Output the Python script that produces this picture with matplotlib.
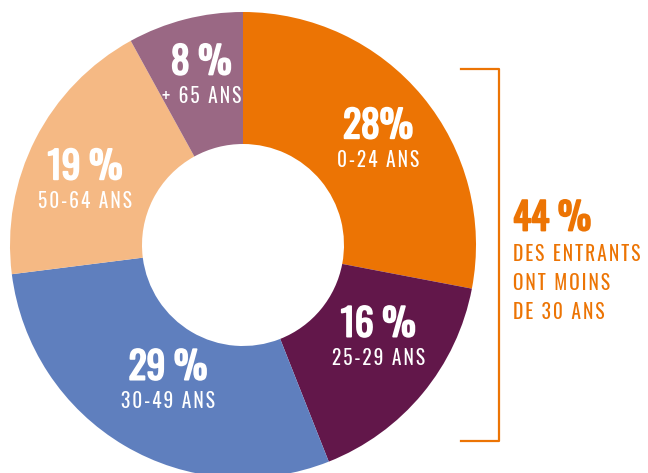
import numpy as np
import matplotlib
matplotlib.use('Agg')
import matplotlib.pyplot as plt
import matplotlib.patheffects as pe
from matplotlib.lines import Line2D

plt.rcParams['font.family'] = ['Oswald', 'DejaVu Sans']

# données : répartition des entrants par âge
shares = [28, 16, 29, 19, 8]
pct_labels = ['28%', '16 %', '29 %', '19 %', '8 %']
age_labels = ['0-24 ANS', '25-29 ANS', '30-49 ANS', '50-64 ANS', '+ 65 ANS']
colors = ['#EC7404', '#62174A', '#5F7FBE', '#F5B984', '#9A6884']

summary_value = '44 %'
summary_lines = ['DES ENTRANTS', 'ONT MOINS', 'DE 30 ANS']
orange = '#EC7404'

# placement des étiquettes : décalage angulaire (deg) et rayon relatif
label_shift = [-1.2, 5.6, 1.4, 4.3, -0.7]
label_radius = [0.74, 0.70, 0.66, 0.735, 0.755]


def track(s):
    # espacement des lettres (hair space entre chaque caractère)
    return '\u200a'.join(s)


def bold(c, lw=1.3):
    return [pe.withStroke(linewidth=lw, foreground=c)]


W, H = 648, 473
fig = plt.figure(figsize=(W / 100, H / 100), dpi=100)

# donut : centre (243, 245) px, rayon 233 px
cx, cy, r = 243, 245, 233
ax = fig.add_axes([(cx - r) / W, (H - cy - r) / H, 2 * r / W, 2 * r / H])
wedges, _ = ax.pie(shares, colors=colors, startangle=90, counterclock=False,
                   radius=1, wedgeprops=dict(width=1 - 101 / 233, linewidth=0))
ax.set_xlim(-1, 1)
ax.set_ylim(-1, 1)
ax.set_aspect('equal')
ax.axis('off')

# étiquettes dans chaque secteur
for w, p, a, ds, rr in zip(wedges, pct_labels, age_labels, label_shift, label_radius):
    mid = np.deg2rad((w.theta1 + w.theta2) / 2 + ds)
    x, y = rr * np.cos(mid), rr * np.sin(mid)
    ax.annotate(p, (x, y), xytext=(0, 8), textcoords='offset points',
                ha='center', va='center', color='white', fontsize=27,
                path_effects=bold('white'))
    ax.annotate(track(a), (x, y), xytext=(0, -16), textcoords='offset points',
                ha='center', va='center', color='white', fontsize=14)

# accolade à droite
bx0, bx1, by0, by1 = 461 / W, 499 / W, 1 - 69 / H, 1 - 441 / H
fig.add_artist(Line2D([bx0, bx1, bx1, bx0], [by0, by0, by1, by1],
                      color=orange, lw=1.6, transform=fig.transFigure))

fig.text(513 / W, 1 - 219 / H, summary_value, color=orange, fontsize=27,
         ha='left', va='center', path_effects=bold(orange))
for i, line in enumerate(summary_lines):
    fig.text(513 / W, 1 - (254 + 29 * i) / H, track(line), color=orange,
             fontsize=14, ha='left', va='center')

fig.savefig('out.png', dpi=100, facecolor='white')
